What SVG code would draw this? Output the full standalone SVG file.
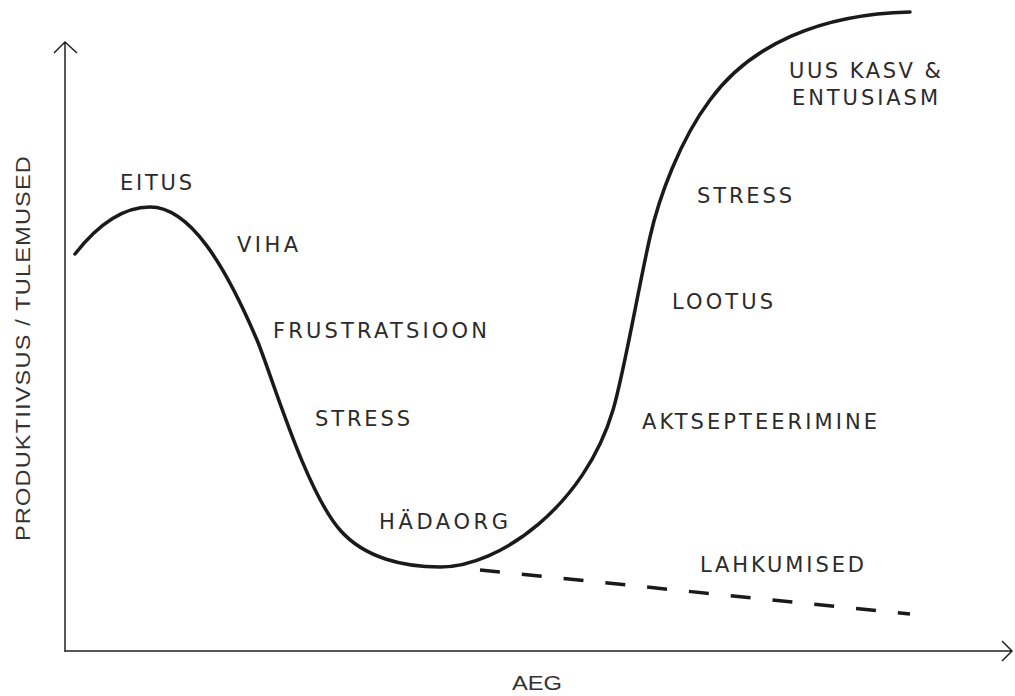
<svg xmlns="http://www.w3.org/2000/svg" width="1015" height="696" viewBox="0 0 1015 696">
<style>
.ax{fill:none;stroke:#222;stroke-width:1.5}
.curve{fill:none;stroke:#1a1a1a;stroke-width:3.5;stroke-linecap:round}
.dash{fill:none;stroke:#1a1a1a;stroke-width:3.5;stroke-dasharray:20 22}
.lbl{font-family:"DejaVu Sans","Noto Sans",sans-serif;font-size:21px;fill:#2b2b2b}
.axl{font-family:"Liberation Sans",sans-serif;font-size:20px;fill:#333}
</style>
<rect width="1015" height="696" fill="#fff"/>
<g id="axes">
<path class="ax" d="M65,652 V42 M54,53 L65,42 L77,53"/>
<path class="ax" d="M65,651 H1011 M1002,641 L1012,651 L1002,661"/>
<text class="axl" x="537" y="690" text-anchor="middle" textLength="50" lengthAdjust="spacingAndGlyphs">AEG</text>
<text class="axl" transform="translate(30,348) rotate(-90)" text-anchor="middle" textLength="386" lengthAdjust="spacingAndGlyphs" style="letter-spacing:1px">PRODUKTIIVSUS / TULEMUSED</text>
</g>
<g id="connectors">
<path class="curve" d="M75,254 C100,222 125,207 150,207 C190,207 225,265 257,340 C271,373 305,490 340,530 C365,558.6 405,567 440,567 C500,567 585,505 613,410 C624,373 638,290 650,237 C659,197 680,140 710,100 C750,45 820,14 910,12"/>
<path class="dash" d="M480,570 L910,614"/>
</g>
<g id="labels">
<text id="eitus" class="lbl" x="120" y="190" textLength="72">EITUS</text>
<text id="viha" class="lbl" x="237" y="252" textLength="61">VIHA</text>
<text id="frustratsioon" class="lbl" x="273" y="338" textLength="214">FRUSTRATSIOON</text>
<text id="stress1" class="lbl" x="315" y="426" textLength="95">STRESS</text>
<text id="hadaorg" class="lbl" x="379" y="529" textLength="129">HÄDAORG</text>
<text id="aktsepteerimine" class="lbl" x="642" y="429" textLength="235">AKTSEPTEERIMINE</text>
<text id="lootus" class="lbl" x="672" y="309" textLength="101">LOOTUS</text>
<text id="stress2" class="lbl" x="697" y="203" textLength="95">STRESS</text>
<text id="uuskasv" class="lbl" x="789" y="78" textLength="152">UUS KASV &amp;</text>
<text id="entusiasm" class="lbl" x="792" y="105" textLength="146">ENTUSIASM</text>
<text id="lahkumised" class="lbl" x="700" y="572" textLength="164">LAHKUMISED</text>
</g>
</svg>
